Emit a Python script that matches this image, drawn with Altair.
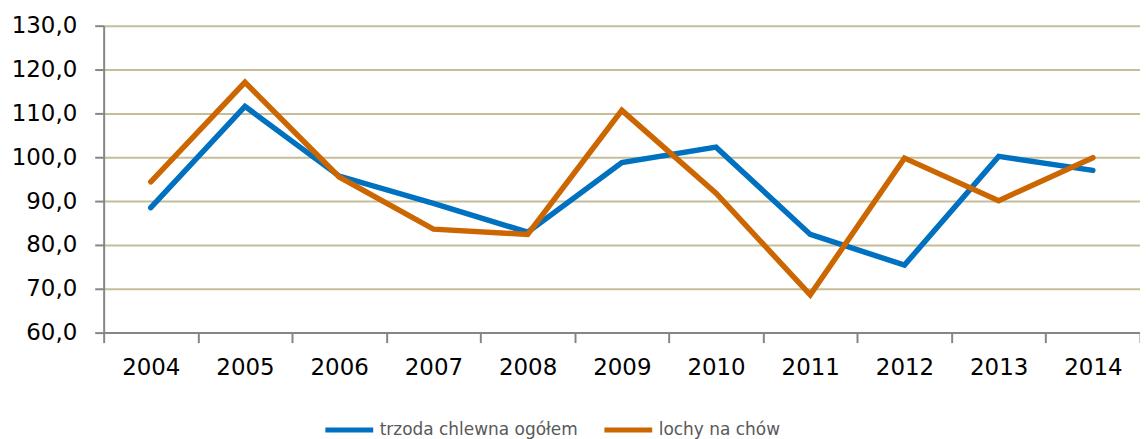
import altair as alt
import pandas as pd

years = ["2004", "2005", "2006", "2007", "2008", "2009", "2010", "2011", "2012", "2013", "2014"]
trzoda = [88.5, 111.6, 95.7, 89.5, 82.9, 98.8, 102.3, 82.4, 75.4, 100.2, 97.0]
lochy = [94.4, 117.1, 95.5, 83.6, 82.4, 110.7, 91.8, 68.6, 99.8, 90.1, 99.9]
series = ["trzoda chlewna ogółem", "lochy na chów"]
colors = ["#0070C0", "#CC6600"]
y_ticks = [60, 70, 80, 90, 100, 110, 120, 130]

rows = []
for i, yr in enumerate(years):
    rows.append({"rok": yr, "seria": series[0], "wartosc": trzoda[i]})
    rows.append({"rok": yr, "seria": series[1], "wartosc": lochy[i]})
df = pd.DataFrame(rows)

FONT = "DejaVu Sans"

chart = alt.Chart(df).mark_line(strokeWidth=5.5, strokeCap="round", strokeJoin="miter").encode(
    x=alt.X("rok:N", sort=years, bandPosition=0.5,
            scale=alt.Scale(type="band", paddingInner=0, paddingOuter=0),
            axis=alt.Axis(title=None, labelAngle=0, tickBand="extent", domainColor="#868686",
                          domainWidth=2, tickColor="#868686", tickWidth=2, tickSize=10,
                          labelPadding=14, labelFontSize=23, labelFont=FONT, labelColor="#000000",
                          grid=False)),
    y=alt.Y("wartosc:Q", scale=alt.Scale(domain=[60, 130], nice=False, zero=False),
            axis=alt.Axis(title=None, values=y_ticks,
                          labelExpr="replace(format(datum.value, '.1f'), '.', ',')",
                          domainColor="#868686", domainWidth=2, tickColor="#868686", tickWidth=2,
                          tickSize=9, labelPadding=18, labelFontSize=23, labelFont=FONT,
                          labelColor="#000000", gridColor="#C4BD97", gridWidth=2)),
    color=alt.Color("seria:N", sort=series,
                    scale=alt.Scale(domain=series, range=colors),
                    legend=alt.Legend(title=None, orient="none", direction="horizontal",
                                      legendX=220, legendY=379, symbolType="stroke",
                                      symbolSize=2304, symbolStrokeWidth=5,
                                      labelFontSize=17, labelFont=FONT, labelColor="#595959",
                                      labelLimit=500, labelOffset=4, columnPadding=16)),
).properties(
    width=1040, height=308,
    autosize=alt.AutoSizeParams(type="none"),
    padding={"left": 96, "top": 17, "right": 0, "bottom": 106},
).configure_view(stroke=None)

chart.save("out.html", embed_options={"renderer": "svg", "actions": False})
